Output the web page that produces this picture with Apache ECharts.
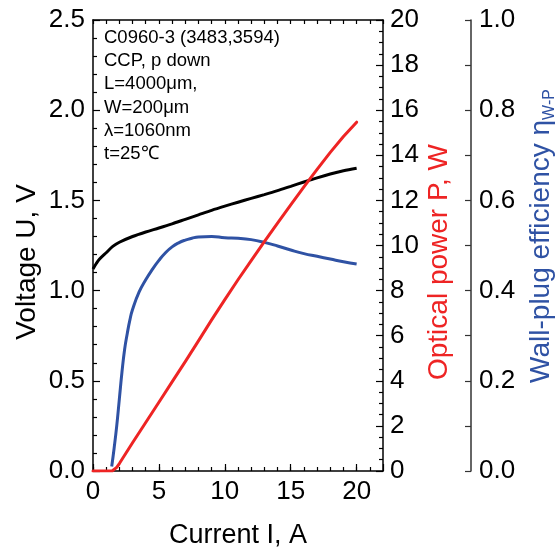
<!DOCTYPE html>
<html><head><meta charset="utf-8">
<script src="https://cdn.jsdelivr.net/npm/echarts@6/dist/echarts.min.js"></script>
<style>html,body{margin:0;padding:0;background:#fff}#c{width:560px;height:554px}</style>
</head><body><div id="c"></div>
<script>
// ---- data ----
const voltageCurrent = [0,0.25,0.5,1,1.5,2,3,4,5,6,7,8,9,10,11,12,13,14,15,16,17,18,19,20];
const voltageValues  = [1.12,1.15,1.175,1.21,1.245,1.268,1.30,1.325,1.347,1.37,1.395,1.42,1.445,1.468,1.49,1.511,1.532,1.554,1.578,1.602,1.625,1.646,1.664,1.678];

const powerCurrent = [0,1.45,1.6,1.8,2,3,4,5,6,7,8,9,10,11,12,13,14,15,16,17,18,19,20];
const powerValues  = [0,0,0.05,0.16,0.33,1.25,2.15,3.05,3.95,4.85,5.77,6.7,7.6,8.48,9.33,10.17,10.99,11.8,12.6,13.38,14.13,14.83,15.47];

const effCurrent = [1.42,1.6,1.8,2.0,2.2,2.4,2.6,2.8,3.0,3.5,4.0,4.5,5.0,5.5,6.0,6.5,7.0,7.5,8.0,9,10,11,12,13,14,15,16,17,18,19,20];
const effValues  = [0.01,0.05,0.10,0.16,0.22,0.27,0.305,0.335,0.358,0.397,0.424,0.447,0.467,0.484,0.497,0.506,0.512,0.516,0.519,0.52,0.517,0.516,0.513,0.507,0.499,0.49,0.482,0.476,0.47,0.464,0.459];

const noteLines = ['C0960-3 (3483,3594)','CCP, p down','L=4000\u03bcm,','W=200\u03bcm','\u03bb=1060nm','t=25\u2103'];

const xTitle = 'Current I, A';
const yTitleVoltage = 'Voltage U, V';
const yTitlePower = 'Optical power P, W';
const yTitleEffMain = 'Wall-plug efficiency \u03b7';
const yTitleEffSub = 'W-P';

// ---- build ----
const zip = (a, b) => a.map((v, i) => [v, b[i]]);
const FONT = '"Liberation Sans", Arial, Helvetica, sans-serif';
const RED = '#ee2424';
const BLUE = '#2f52a4';
const lab = (extra) => Object.assign({fontSize: 26, color: '#000', fontFamily: FONT}, extra || {});

const chart = echarts.init(document.getElementById('c'), null, {renderer: 'canvas'});
chart.setOption({
  animation: false,
  backgroundColor: '#fff',
  grid: {left: 93, right: 177, top: 20, bottom: 81},
  xAxis: [
    {type: 'value', min: 0, max: 22, interval: 1, position: 'bottom',
     axisLine: {show: true, onZero: false, lineStyle: {color: '#000', width: 1.5}},
     axisTick: {show: true, inside: true, length: 4, lineStyle: {color: '#000', width: 1.2}},
     axisLabel: lab({margin: 8, showMaxLabel: false, formatter: v => (Math.round(v) % 5 === 0 && v <= 20) ? String(Math.round(v)) : ''}),
     splitLine: {show: false},
     name: xTitle, nameLocation: 'middle', nameGap: 51,
     nameTextStyle: {fontSize: 27, color: '#000', fontFamily: FONT}},
    {type: 'value', min: 0, max: 22, interval: 5, position: 'bottom',
     axisLine: {show: false}, axisTick: {show: true, inside: true, length: 7, lineStyle: {color: '#000', width: 1.2}},
     axisLabel: {show: false}, splitLine: {show: false}},
    {type: 'value', min: 0, max: 22, interval: 1, position: 'top',
     axisLine: {show: true, onZero: false, lineStyle: {color: '#000', width: 1.5}},
     axisTick: {show: true, inside: true, length: 4, lineStyle: {color: '#000', width: 1.2}},
     axisLabel: {show: false}, splitLine: {show: false}}
  ],
  yAxis: [
    {type: 'value', min: 0, max: 2.5, interval: 0.5, position: 'left',
     axisLine: {show: true, onZero: false, lineStyle: {color: '#000', width: 1.5}},
     axisTick: {show: true, inside: true, length: 7, lineStyle: {color: '#000', width: 1.2}},
     minorTick: {show: true, splitNumber: 5, length: 4, lineStyle: {color: '#000', width: 1.2}},
     axisLabel: lab({margin: 8, formatter: v => v.toFixed(1)}),
     splitLine: {show: false}, minorSplitLine: {show: false}},
    {type: 'value', min: 0, max: 20, interval: 2, position: 'right',
     axisLine: {show: true, onZero: false, lineStyle: {color: '#000', width: 1.5}},
     axisTick: {show: true, inside: true, length: 7, lineStyle: {color: '#000', width: 1.2}},
     minorTick: {show: true, splitNumber: 4, length: 4, lineStyle: {color: '#000', width: 1.2}},
     axisLabel: lab({margin: 7}),
     splitLine: {show: false}, minorSplitLine: {show: false}},
    {type: 'value', min: 0, max: 1, interval: 0.2, position: 'right', offset: 88,
     axisLine: {show: true, onZero: false, lineStyle: {color: '#333', width: 1.5}},
     axisTick: {show: true, inside: true, length: 6, lineStyle: {color: '#333', width: 1.2}},
     minorTick: {show: true, splitNumber: 2, length: 6, lineStyle: {color: '#333', width: 1.2}},
     axisLabel: lab({margin: 8, formatter: v => v.toFixed(1)}),
     splitLine: {show: false}, minorSplitLine: {show: false}}
  ],
  graphic: [
    {type: 'text', left: 104, top: 26, z: 100,
     style: {text: noteLines.join('\n'), font: '18.5px "Liberation Sans", Arial, sans-serif', lineHeight: 23.3, fill: '#000'}},
    {type: 'text', x: 27, y: 262, rotation: Math.PI / 2, z: 100,
     style: {text: yTitleVoltage, font: '28px "Liberation Sans", Arial, sans-serif', fill: '#000', align: 'center', verticalAlign: 'middle'}},
    {type: 'text', x: 439, y: 262, rotation: Math.PI / 2, z: 100,
     style: {text: yTitlePower, font: '28px "Liberation Sans", Arial, sans-serif', fill: RED, align: 'center', verticalAlign: 'middle'}},
    {type: 'text', x: 541, y: 236, rotation: Math.PI / 2, z: 100,
     style: {text: '{m|' + yTitleEffMain + '}{s|' + yTitleEffSub + '}', align: 'center', verticalAlign: 'middle',
       rich: {
         m: {fontSize: 28, fontFamily: FONT, fill: BLUE, color: BLUE, lineHeight: 28},
         s: {fontSize: 16, fontFamily: FONT, fill: BLUE, color: BLUE, lineHeight: 33, verticalAlign: 'bottom'}
       }}}
  ],
  series: [
    {type: 'line', name: 'Voltage', xAxisIndex: 0, yAxisIndex: 0, data: zip(voltageCurrent, voltageValues),
     showSymbol: false, smooth: 0.3, lineStyle: {color: '#000', width: 3}, itemStyle: {color: '#000'}},
    {type: 'line', name: 'Efficiency', xAxisIndex: 0, yAxisIndex: 2, data: zip(effCurrent, effValues),
     showSymbol: false, smooth: 0.5, lineStyle: {color: BLUE, width: 3}, itemStyle: {color: BLUE}},
    {type: 'line', name: 'Power', xAxisIndex: 0, yAxisIndex: 1, data: zip(powerCurrent, powerValues),
     showSymbol: false, smooth: false, lineStyle: {color: RED, width: 3, join: 'round', cap: 'round'}, itemStyle: {color: RED}}
  ]
});
</script>
</body></html>
